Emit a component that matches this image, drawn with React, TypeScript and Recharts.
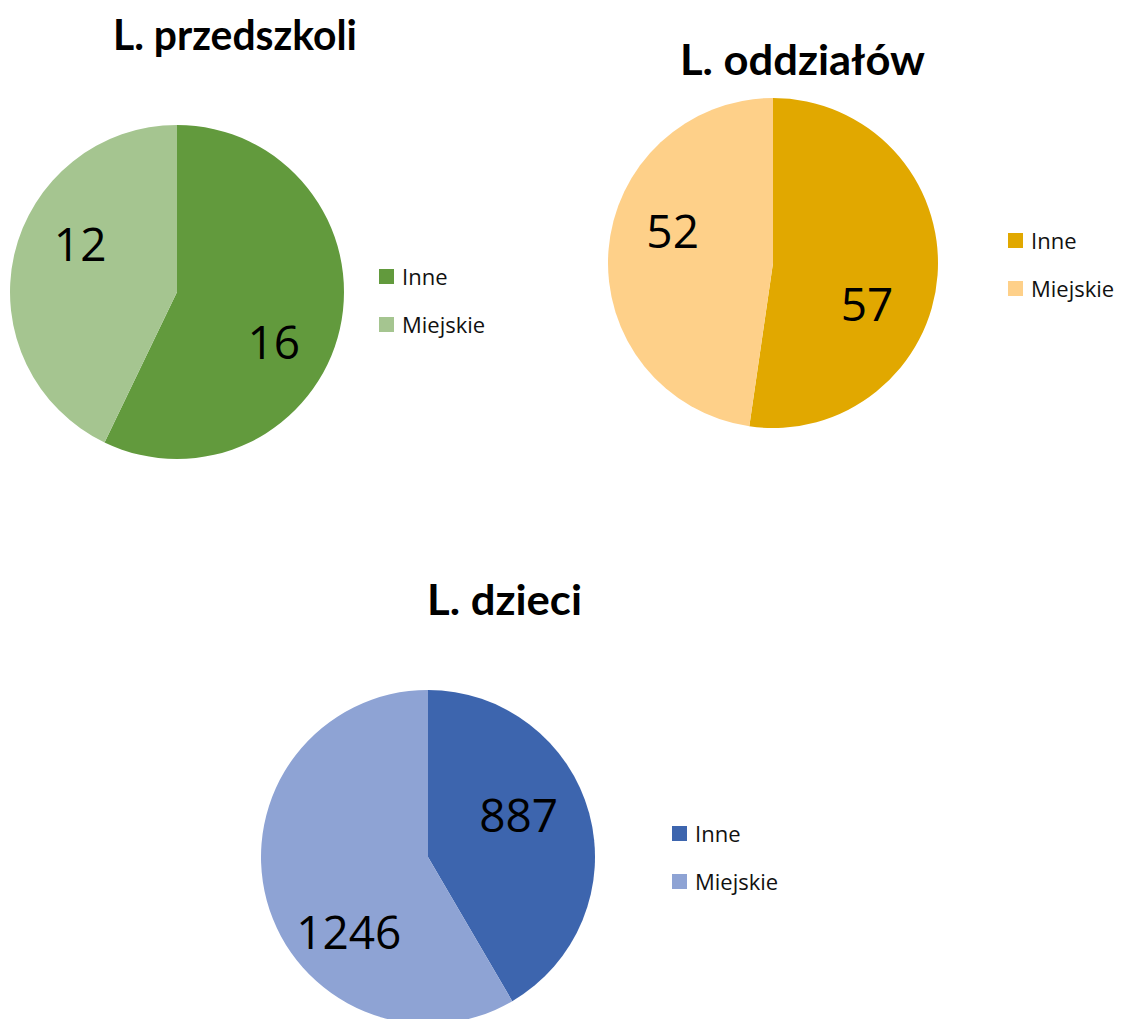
import React from 'react';
import { PieChart, Pie, Cell, Legend } from 'recharts';

const categories = ['Inne', 'Miejskie'];
const przedszkoliValues = [16, 12];
const oddzialowValues = [57, 52];
const dzieciValues = [887, 1246];
const titles = ['L. przedszkoli', 'L. oddziałów', 'L. dzieci'];

const greenColors = ['#629A3D', '#A5C590'];
const goldColors = ['#E1A800', '#FED089'];
const blueColors = ['#3D65AE', '#8EA3D4'];

const RAD = Math.PI / 180;

const makeData = (values: number[]) =>
  categories.map((name, i) => ({ name, value: values[i] }));

// label placement tweaks (best-fit style) per slice: clockwise angle shift, radius fraction
const makeLabel = (shift: number[], frac: number[]) => (props: any) => {
  const { cx, cy, midAngle, outerRadius, value, index } = props;
  const r = outerRadius * frac[index];
  const a = midAngle - shift[index];
  const x = cx + r * Math.cos(-a * RAD);
  const y = cy + r * Math.sin(-a * RAD);
  return (
    <text
      x={x}
      y={y}
      textAnchor="middle"
      dominantBaseline="central"
      fill="#000"
      style={{ fontFamily: '"Open Sans", sans-serif', fontSize: 46 }}
    >
      {value}
    </text>
  );
};

const LegendContent = (props: any) => {
  const { payload } = props;
  return (
    <div style={{ fontFamily: '"Open Sans", sans-serif', fontSize: 22, color: '#111' }}>
      {(payload || []).map((p: any, i: number) => (
        <div key={i} style={{ display: 'flex', alignItems: 'center', height: 48 }}>
          <div style={{ width: 15, height: 15, background: p.color, marginRight: 8 }} />
          <span style={{ lineHeight: '48px' }}>{p.value}</span>
        </div>
      ))}
    </div>
  );
};

type MiniProps = {
  left: number;
  top: number;
  width: number;
  height: number;
  cx: number;
  cy: number;
  radius: number;
  values: number[];
  colors: string[];
  legendX: number;
  legendY: number;
  labelShift: number[];
  labelFrac: number[];
};

const MiniPie = (p: MiniProps) => (
  <div style={{ position: 'absolute', left: p.left, top: p.top, width: p.width, height: p.height }}>
    <PieChart width={p.width} height={p.height} margin={{ top: 0, right: 0, bottom: 0, left: 0 }}>
      <Pie
        data={makeData(p.values)}
        dataKey="value"
        nameKey="name"
        cx={p.cx}
        cy={p.cy}
        outerRadius={p.radius}
        startAngle={90}
        endAngle={-270}
        stroke="none"
        label={makeLabel(p.labelShift, p.labelFrac)}
        labelLine={false}
        isAnimationActive={false}
      >
        {p.values.map((_, i) => (
          <Cell key={i} fill={p.colors[i]} />
        ))}
      </Pie>
      <Legend
        layout="vertical"
        align="right"
        verticalAlign="middle"
        content={<LegendContent />}
        wrapperStyle={{ left: p.legendX, top: p.legendY, width: 150, right: 'auto', bottom: 'auto' }}
      />
    </PieChart>
  </div>
);

const titleStyle: React.CSSProperties = {
  fontFamily: 'Lato, "Open Sans", sans-serif',
  fontWeight: 700,
  fontSize: 42,
};

export default function App() {
  return (
    <div style={{ position: 'absolute', left: 0, top: 0, width: 1121, height: 1019, overflow: 'hidden', background: '#fff' }}>
      <MiniPie left={0} top={0} width={560} height={500} cx={177} cy={292} radius={167}
        values={przedszkoliValues} colors={greenColors} legendX={379} legendY={252}
        labelShift={[14, 14]} labelFrac={[0.65, 0.65]} />
      <MiniPie left={560} top={0} width={561} height={500} cx={213} cy={263} radius={165}
        values={oddzialowValues} colors={goldColors} legendX={448} legendY={216}
        labelShift={[19, 14]} labelFrac={[0.62, 0.64]} />
      <MiniPie left={0} top={520} width={1121} height={499} cx={428} cy={337} radius={167}
        values={dzieciValues} colors={blueColors} legendX={672} legendY={289}
        labelShift={[-10, -28]} labelFrac={[0.6, 0.65]} />
      <svg width={1121} height={1019} style={{ position: 'absolute', left: 0, top: 0, pointerEvents: 'none' }}>
        <text x={113} y={50} textLength={244} lengthAdjust="spacingAndGlyphs" style={titleStyle}>{titles[0]}</text>
        <text x={680} y={75} textLength={245} lengthAdjust="spacingAndGlyphs" style={titleStyle}>{titles[1]}</text>
        <text x={427} y={615} textLength={155} lengthAdjust="spacingAndGlyphs" style={titleStyle}>{titles[2]}</text>
      </svg>
    </div>
  );
}
